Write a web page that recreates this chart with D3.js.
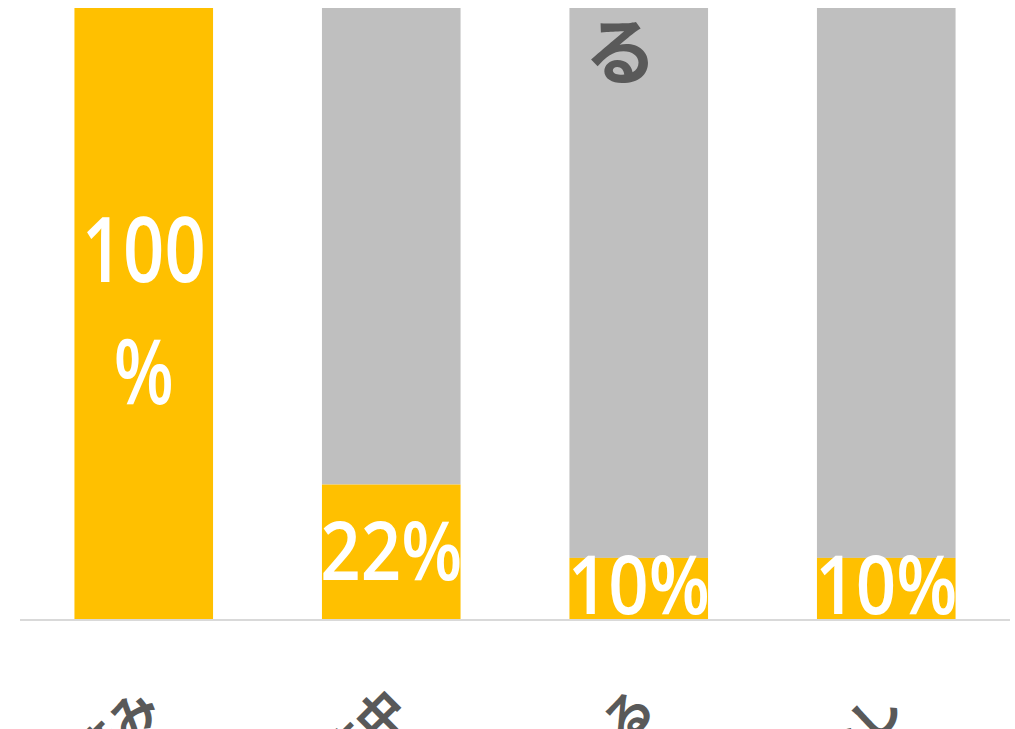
<!DOCTYPE html>
<html><head><meta charset="utf-8">
<script src="https://cdn.jsdelivr.net/npm/d3@7"></script>
<style>body{margin:0;background:#fff;overflow:hidden}svg{display:block}</style>
</head><body>
<svg id="c" width="1015" height="729"></svg>
<script>
const categories = ["対応済み", "実施中", "検討している", "予定なし"];
const orangeValues = [100, 22, 10, 10];
const grayValues = [0, 78, 90, 90];
const labelTexts = [["100", "%"], ["22%"], ["10%"], ["10%"]];
const noteText = "る";

const svg = d3.select("#c");
const x = d3.scaleBand().domain(categories).range([20, 1010]).paddingInner(0.44).paddingOuter(0.22);
const y = d3.scaleLinear().domain([0, 100]).range([619, 8]);

const rows = categories.map((c, i) => ({c, o: orangeValues[i], g: grayValues[i], lab: labelTexts[i]}));

svg.selectAll("rect.g").data(rows).enter().append("rect")
  .attr("x", d => x(d.c)).attr("width", x.bandwidth())
  .attr("y", d => y(d.o + d.g)).attr("height", d => y(d.o) - y(d.o + d.g))
  .attr("fill", "#BFBFBF");
svg.selectAll("rect.o").data(rows).enter().append("rect")
  .attr("x", d => x(d.c)).attr("width", x.bandwidth())
  .attr("y", d => y(d.o)).attr("height", d => y(0) - y(d.o))
  .attr("fill", "#FFC000");

// axis line
svg.append("line").attr("x1", 20).attr("x2", 1010).attr("y1", 620).attr("y2", 620)
  .attr("stroke", "#D9D9D9").attr("stroke-width", 2);

// data labels
const lblFont = "Open Sans";
rows.forEach(d => {
  const cx = x(d.c) + x.bandwidth() / 2;
  if (d.lab.length === 2) {
    svg.append("text").attr("x", cx).attr("y", 282).attr("text-anchor", "middle")
      .attr("font-family", lblFont).attr("font-weight", 600).attr("font-size", 90).attr("fill", "#fff")
      .attr("textLength", 124).attr("lengthAdjust", "spacingAndGlyphs").text(d.lab[0]);
    svg.append("text").attr("x", cx).attr("y", 404).attr("text-anchor", "middle")
      .attr("font-family", lblFont).attr("font-weight", 600).attr("font-size", 90).attr("fill", "#fff")
      .attr("textLength", 60).attr("lengthAdjust", "spacingAndGlyphs").text(d.lab[1]);
  } else {
    const base = (y(d.o) + y(0)) / 2 + 28;
    svg.append("text").attr("x", cx).attr("y", Math.min(base, 614)).attr("text-anchor", "middle")
      .attr("font-family", lblFont).attr("font-weight", 600).attr("font-size", 82).attr("fill", "#fff")
      .attr("textLength", 142).attr("lengthAdjust", "spacingAndGlyphs").text(d.lab[0]);
  }
});

// note text on third bar
svg.append("text").attr("x", x(categories[2]) + x.bandwidth() / 2 - 18).attr("y", 78)
  .attr("text-anchor", "middle").attr("font-family", "Noto Sans CJK JP").attr("font-weight", "bold")
  .attr("font-size", 72).attr("fill", "#595959").text(noteText);

// category labels rotated -45
svg.selectAll("text.cat").data(categories).enter().append("text")
  .attr("transform", d => `translate(${x(d) + x.bandwidth() / 2 - 10},${682}) rotate(-45)`)
  .attr("text-anchor", "end").attr("dy", "0.85em")
  .attr("font-family", "Noto Sans CJK JP").attr("font-weight", "bold").attr("font-size", 48)
  .attr("fill", "#595959").text(d => d);
</script>
</body></html>
